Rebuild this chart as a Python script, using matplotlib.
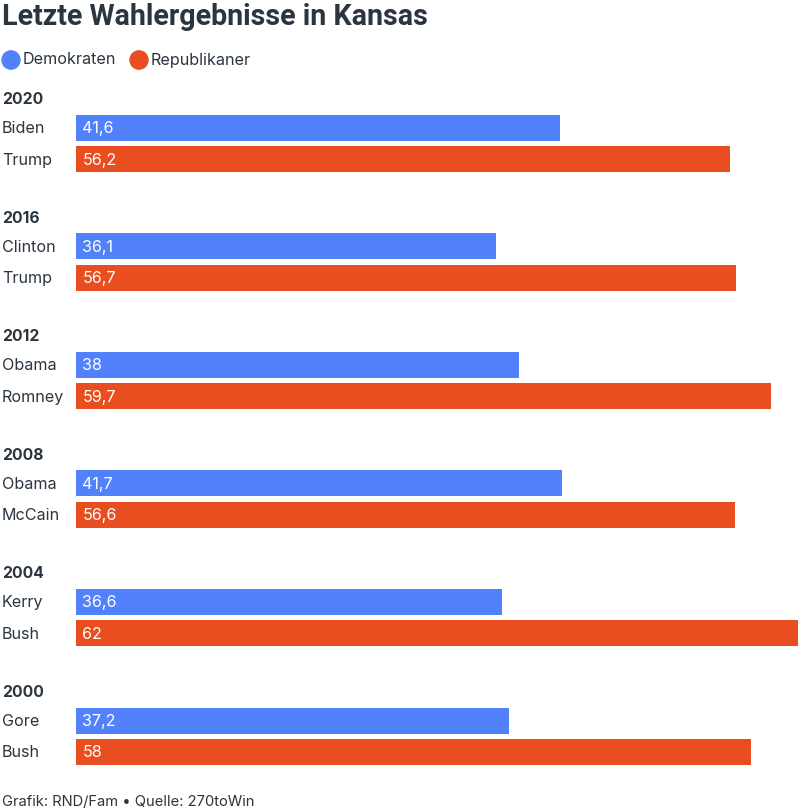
import matplotlib.pyplot as plt
from matplotlib.patches import Circle

plt.rcParams['font.family'] = ['Inter', 'DejaVu Sans']

years = ['2020', '2016', '2012', '2008', '2004', '2000']
dem_names = ['Biden', 'Clinton', 'Obama', 'Obama', 'Kerry', 'Gore']
rep_names = ['Trump', 'Trump', 'Romney', 'McCain', 'Bush', 'Bush']
dem_values = [41.6, 36.1, 38, 41.7, 36.6, 37.2]
rep_values = [56.2, 56.7, 59.7, 56.6, 62, 58]

BLUE = '#5282fb'
RED = '#e84e1f'
TEXT = '#2b3540'

W, H = 800, 812
fig = plt.figure(figsize=(W / 100, H / 100), dpi=100)

# bar area: x=0 sits at pixel 76, 11.645 px per percentage point
x0 = 76
scale = 11.645
ax = fig.add_axes([x0 / W, 0, (W - x0) / W, 1])
ax.set_xlim(0, (W - x0) / scale)
ax.set_ylim(H, 0)
ax.axis('off')


def fx(x):
    return x / W


def fy(y):
    return 1 - y / H


fig.text(fx(2), fy(17), 'Letzte Wahlergebnisse in Kansas', fontsize=20.6,
         fontweight='bold', color=TEXT, va='center', family=['Roboto', 'DejaVu Sans'])

# legend
for cx, col, lab in [(11, BLUE, 'Demokraten'), (139, RED, 'Republikaner')]:
    fig.patches.append(Circle((fx(cx), fy(61)), 9 / W, transform=fig.transFigure,
                              color=col, zorder=3))
    fig.text(fx(cx + 12), fy(60), lab, fontsize=11.6, color=TEXT, va='center')

bar_h = 26
for i, year in enumerate(years):
    top = 128.5 + 118.6 * i
    fig.text(fx(2), fy(top - 29), year, fontsize=11.3, fontweight='bold',
             color=TEXT, va='center')
    rows = [(dem_names[i], dem_values[i], BLUE, top),
            (rep_names[i], rep_values[i], RED, top + 31.5)]
    for name, val, col, yc in rows:
        ax.barh(yc, val, height=bar_h, color=col, left=0)
        fig.text(fx(2), fy(yc), name, fontsize=11.6, color=TEXT, va='center')
        ax.text(0.55, yc, f'{val:g}'.replace('.', ','), fontsize=11.6,
                color='white', va='center')

fig.text(fx(2), fy(802), 'Grafik: RND/Fam \u2022 Quelle: 270toWin', fontsize=10.6,
         color=TEXT, va='center')

fig.savefig('out.png', dpi=100)
